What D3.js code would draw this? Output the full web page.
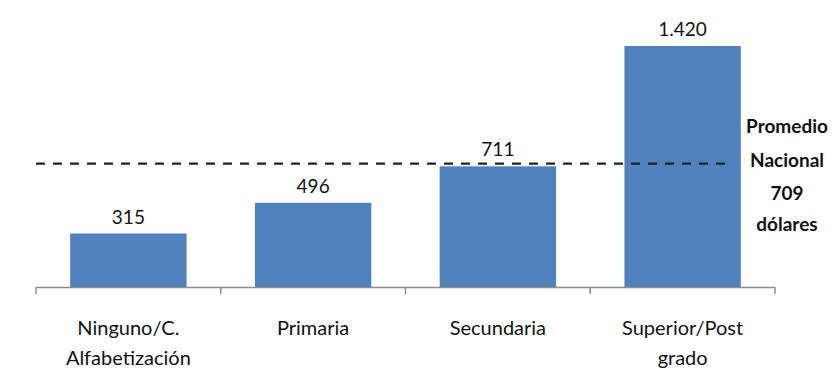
<!DOCTYPE html>
<html><head><meta charset="utf-8">
<script src="https://cdn.jsdelivr.net/npm/d3@7"></script>
<style>body{margin:0;background:#fff}svg{display:block}text{font-family:"Lato",sans-serif;fill:#111}</style>
</head><body>
<svg id="c" width="835" height="372"></svg>
<script>
const categories = [["Ninguno/C.","Alfabetización"],["Primaria"],["Secundaria"],["Superior/Post","grado"]];
const values = [315, 496, 711, 1420];
const valueLabels = ["315","496","711","1.420"];
const average = 709;
const averageLabel = ["Promedio","Nacional","709","dólares"];

const svg = d3.select("#c");
const keys = categories.map((d,i)=>i);
const x = d3.scaleBand().domain(keys).range([36,775]).paddingInner(0.37).paddingOuter(0.185);
const y = d3.scaleLinear().domain([0,1420]).range([287,46]);

svg.selectAll("rect.bar").data(values).join("rect")
  .attr("x",(d,i)=>x(i)).attr("width",x.bandwidth())
  .attr("y",d=>y(d)).attr("height",d=>y(0)-y(d)).attr("fill","#4f81bd");

// axis line + ticks at category boundaries
const step = x.step();
const bounds = keys.map(i=>x(i)-step*x.paddingInner()/2).concat([x(keys.length-1)+x.bandwidth()+step*x.paddingInner()/2]);
svg.append("line").attr("x1",bounds[0]).attr("x2",bounds[bounds.length-1]).attr("y1",y(0)+0.5).attr("y2",y(0)+0.5).attr("stroke","#8c8c8c").attr("stroke-width",1.5);
svg.selectAll("line.tk").data(bounds).join("line").attr("class","tk")
  .attr("x1",d=>d).attr("x2",d=>d).attr("y1",y(0)).attr("y2",y(0)+7).attr("stroke","#8c8c8c").attr("stroke-width",1.5);

// average line
svg.append("line").attr("x1",bounds[0]).attr("x2",730).attr("y1",y(average)-3).attr("y2",y(average)-3)
  .attr("stroke","#222").attr("stroke-width",2.2).attr("stroke-dasharray","9,8");

// value labels
svg.selectAll("text.v").data(values).join("text").attr("class","v")
  .attr("x",(d,i)=>x(i)+x.bandwidth()/2).attr("y",d=>y(d)-10)
  .attr("text-anchor","middle").attr("font-size",19).text((d,i)=>valueLabels[i]);

// category labels
const cat = svg.selectAll("text.cat").data(categories).join("text").attr("class","cat")
  .attr("text-anchor","middle").attr("font-size",20);
cat.selectAll("tspan").data((d,i)=>d.map(t=>({t,i}))).join("tspan")
  .attr("x",d=>x(d.i)+x.bandwidth()/2).attr("y",(d,j)=>335+j*30).text(d=>d.t);

// average annotation
svg.selectAll("text.a").data(averageLabel).join("text").attr("class","a")
  .attr("x",787).attr("y",(d,i)=>[133,167,200,231][i]).attr("text-anchor","middle").attr("font-size",19).attr("font-weight","bold").text(d=>d);
</script>
</body></html>
